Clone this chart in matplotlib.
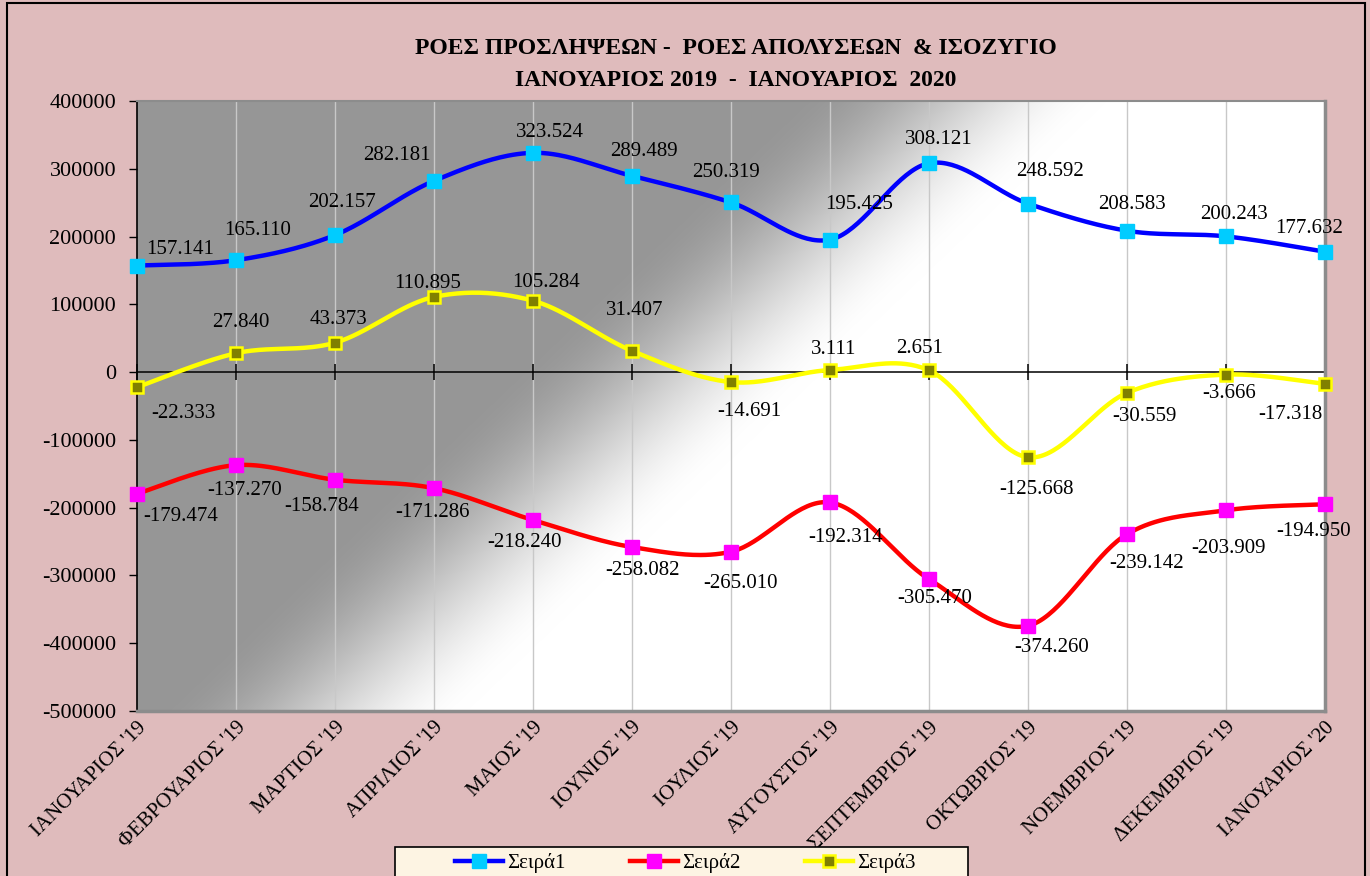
import matplotlib
matplotlib.use("Agg")
import matplotlib.pyplot as plt
import numpy as np
from matplotlib.patches import Rectangle
from matplotlib.lines import Line2D

plt.rcParams['font.family'] = ['Liberation Serif', 'DejaVu Serif']
plt.rcParams['axes.unicode_minus'] = False

# δεδομένα
months = ["ΙΑΝΟΥΑΡΙΟΣ '19", "ΦΕΒΡΟΥΑΡΙΟΣ '19", "ΜΑΡΤΙΟΣ '19", "ΑΠΡΙΛΙΟΣ '19",
          "ΜΑΙΟΣ '19", "ΙΟΥΝΙΟΣ '19", "ΙΟΥΛΙΟΣ '19", "ΑΥΓΟΥΣΤΟΣ '19",
          "ΣΕΠΤΕΜΒΡΙΟΣ '19", "ΟΚΤΩΒΡΙΟΣ '19", "ΝΟΕΜΒΡΙΟΣ '19",
          "ΔΕΚΕΜΒΡΙΟΣ '19", "ΙΑΝΟΥΑΡΙΟΣ '20"]
hires = [157141, 165110, 202157, 282181, 323524, 289489, 250319,
         195425, 308121, 248592, 208583, 200243, 177632]
exits = [-179474, -137270, -158784, -171286, -218240, -258082, -265010,
         -192314, -305470, -374260, -239142, -203909, -194950]
balance = [-22333, 27840, 43373, 110895, 105284, 31407, -14691,
           3111, 2651, -125668, -30559, -3666, -17318]
series_names = ["Σειρά1", "Σειρά2", "Σειρά3"]
yticks = [400000, 300000, 200000, 100000, 0, -100000, -200000, -300000, -400000, -500000]

# θέσεις ετικετών (offset σε pixels)
off_hires = [(43, 16), (22, 30), (7, 33), (-37, 25), (17, 20), (12, 24), (-5, 30),
             (29, 35), (10, 24), (22, 32), (5, 26), (8, 22), (-16, 23)]
off_exits = [(44, -23), (9, -25), (-13, -27), (-2, -24), (-8, -22), (11, -23), (10, -32),
             (16, -35), (6, -19), (24, -22), (20, -29), (3, -38), (-11, -27)]
off_bal = [(46, -26), (5, 31), (3, 23), (-6, 13), (13, 18), (3, 40), (18, -29),
           (4, 21), (-9, 22), (8, -32), (17, -24), (3, -19), (-35, -31)]


def smooth(y, n=40):
    # Catmull-Rom -> Bezier, όπως η εξομάλυνση του Excel
    y = np.asarray(y, dtype=float)
    x = np.arange(len(y), dtype=float)
    P = np.column_stack([x, y])
    out = []
    for i in range(len(P) - 1):
        p0 = P[max(i - 1, 0)]
        p1 = P[i]
        p2 = P[i + 1]
        p3 = P[min(i + 2, len(P) - 1)]
        c1 = p1 + (p2 - p0) / 6
        c2 = p2 - (p3 - p1) / 6
        t = np.linspace(0, 1, n)[:, None]
        seg = (1 - t) ** 3 * p1 + 3 * (1 - t) ** 2 * t * c1 + 3 * (1 - t) * t ** 2 * c2 + t ** 3 * p2
        out.append(seg if i == 0 else seg[1:])
    out = np.vstack(out)
    return out[:, 0], out[:, 1]


pink = '#dfbbbc'
fig = plt.figure(figsize=(13.7, 8.76), dpi=100, facecolor=pink)
ax = fig.add_axes([137 / 1370, 1 - 711 / 876, 1188 / 1370, 610 / 876])

# φόντο με διαβάθμιση
W, H = 1188, 610
gx, gy = np.meshgrid(np.arange(W), np.arange(H))
s = gx + 1.05 * gy
t = np.clip((s - 660) / (970 - 660), 0, 1)
t = t * t * (3 - 2 * t)
g = 0.59 * (1 - t) + 1.0 * t
img = np.dstack([g, g, g])
ax.imshow(img, extent=[0, 1, 0, 1], transform=ax.transAxes, aspect='auto', zorder=0)

x = np.arange(len(months))
ax.set_xlim(0, len(months) - 1)
ax.set_ylim(-500000, 400000)

for xv in x[1:-1]:
    ax.axvline(xv, color='#c8c8c8', lw=1, zorder=1)
ax.axhline(0, color='black', lw=1.1, zorder=2)
ax.plot(x, np.zeros(len(x)), ls='', marker='|', ms=12, mew=1.1, color='black', zorder=2,
        clip_on=False)

styles = [
    (hires, '#0000ff', dict(marker='s', ms=9.5, mfc='#00ccff', mec='#00ccff'), off_hires),
    (exits, '#ff0000', dict(marker='s', ms=9.5, mfc='#ff00ff', mec='#ff00ff'), off_exits),
    (balance, '#ffff00', dict(marker='s', ms=8.5, mfc='#808000', mec='#ffff00', mew=1.8), off_bal),
]
for vals, col, mk, offs in styles:
    sx, sy = smooth(vals)
    ax.plot(sx, sy, color=col, lw=3.2, zorder=3, solid_capstyle='round', clip_on=False)
    ax.plot(x, vals, ls='', zorder=4, clip_on=False, **mk)
    for xi, v, (dx, dy) in zip(x, vals, offs):
        ax.annotate(f"{v:,}".replace(',', '.'), (xi, v), xytext=(dx, dy),
                    textcoords='offset pixels', ha='center', va='center',
                    fontsize=15, color='black', zorder=5)

ax.set_yticks(yticks)
ax.set_yticklabels([str(v) for v in yticks], fontsize=16)
ax.tick_params(axis='y', length=6, width=1, pad=9, color='black')
ax.set_xticks(x)
ax.set_xticklabels(months, rotation=45, ha='right', rotation_mode='anchor', fontsize=15)
ax.tick_params(axis='x', length=0, pad=5)

ax.spines['left'].set_color('black')
ax.spines['left'].set_linewidth(1.2)
for sp in ['top', 'right', 'bottom']:
    ax.spines[sp].set_color('#8c8c8c')
ax.spines['top'].set_linewidth(1.5)
ax.spines['right'].set_linewidth(2.5)
ax.spines['bottom'].set_linewidth(2.5)

fig.text(736 / 1370, 1 - 48 / 876, "ΡΟΕΣ ΠΡΟΣΛΗΨΕΩΝ -  ΡΟΕΣ ΑΠΟΛΥΣΕΩΝ  & ΙΣΟΖΥΓΙΟ",
         ha='center', va='center', fontsize=17, fontweight='bold')
fig.text(736 / 1370, 1 - 80 / 876, "ΙΑΝΟΥΑΡΙΟΣ 2019  -  ΙΑΝΟΥΑΡΙΟΣ  2020",
         ha='center', va='center', fontsize=17, fontweight='bold')

# πλαίσιο γραφήματος
fig.patches.append(Rectangle((7 / 1370, -0.05), (1365 - 7) / 1370, 1.05 - 3 / 876,
                             transform=fig.transFigure, fill=False, ec='black', lw=1.5))

# υπόμνημα
fig.patches.append(Rectangle((395 / 1370, -0.05), 573 / 1370, 0.05 + 1 - 847 / 876,
                             transform=fig.transFigure, fc='#fdf4e3', ec='black', lw=1.2))
handles = [
    Line2D([], [], color='#0000ff', lw=3.2, marker='s', ms=9.5, mfc='#00ccff', mec='#00ccff'),
    Line2D([], [], color='#ff0000', lw=3.2, marker='s', ms=9.5, mfc='#ff00ff', mec='#ff00ff'),
    Line2D([], [], color='#ffff00', lw=3.2, marker='s', ms=8.5, mfc='#808000', mec='#ffff00', mew=1.8),
]
fig.legend(handles, series_names, loc='center', bbox_to_anchor=(685 / 1370, 1 - 863 / 876),
           ncol=3, frameon=False, fontsize=15, handlelength=2.3, columnspacing=3.1,
           handletextpad=0.2, borderpad=0, borderaxespad=0)

fig.savefig('out.png', dpi=100, facecolor=pink)
